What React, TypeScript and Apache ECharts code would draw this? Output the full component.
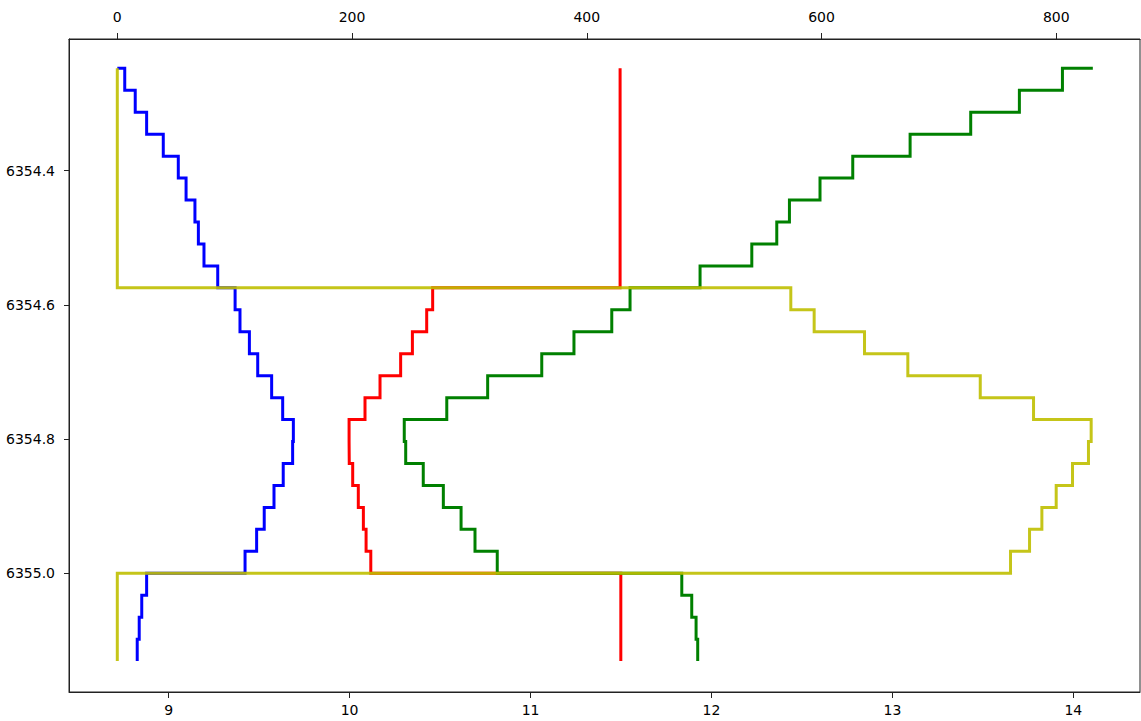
import React, { useEffect, useRef } from "react";
import * as echarts from "echarts";

// Depth samples (ft), top to bottom
const depths = [
  6354.2474, 6354.2801, 6354.3128, 6354.3456, 6354.3783, 6354.411, 6354.4437,
  6354.4764, 6354.5092, 6354.5419, 6354.5746, 6354.6073, 6354.64, 6354.6728,
  6354.7055, 6354.7382, 6354.7709, 6354.8036, 6354.8364, 6354.8691, 6354.9018,
  6354.9345, 6354.9672, 6355.0, 6355.0327, 6355.0654, 6355.0981, 6355.1308,
];

// Curves on the bottom axis
const blueValues = [
  8.716, 8.757, 8.815, 8.878, 8.97, 9.053, 9.096, 9.145, 9.164, 9.195, 9.271,
  9.367, 9.394, 9.446, 9.492, 9.569, 9.63, 9.689, 9.685, 9.633, 9.582, 9.528,
  9.486, 9.422, 8.878, 8.851, 8.837, 8.826,
];
const redValues = [
  11.495, 11.495, 11.495, 11.495, 11.495, 11.495, 11.495, 11.495, 11.495,
  11.495, 11.495, 10.459, 10.426, 10.347, 10.282, 10.168, 10.085, 9.997, 9.998,
  10.017, 10.048, 10.076, 10.091, 10.117, 11.499, 11.499, 11.499, 11.499,
];
const greenValues = [
  14.108, 13.94, 13.702, 13.433, 13.098, 12.781, 12.6, 12.431, 12.361, 12.223,
  11.937, 11.55, 11.449, 11.24, 11.062, 10.763, 10.537, 10.302, 10.31, 10.407,
  10.518, 10.616, 10.693, 10.816, 11.836, 11.891, 11.915, 11.924,
];
// Curve on the top axis
const yellowValues = [
  0, 0, 0, 0, 0, 0, 0, 0, 0, 0, 0, 573.8, 593.7, 636.6, 673.5, 735.2, 780.6,
  829.7, 827.4, 813.8, 799.9, 787.7, 777.2, 761.0, 0, 0, 0, 0,
];

const bottomTicks = [9, 10, 11, 12, 13, 14];
const topTicks = [0, 200, 400, 600, 800];
const depthTicks = [6354.4, 6354.6, 6354.8, 6355.0];

const FONT = "DejaVu Sans";

export default function App() {
  const ref = useRef<HTMLDivElement>(null);
  useEffect(() => {
    if (!ref.current) return;
    const chart = echarts.init(ref.current, null, { renderer: "svg" });
    const pairs = (vals: number[]) => vals.map((v, i) => [v, depths[i]]);
    const line = (name: string, vals: number[], color: string, xi: number, opacity = 1) => ({
      name,
      type: "line",
      xAxisIndex: xi,
      yAxisIndex: 0,
      data: pairs(vals),
      step: "end",
      showSymbol: false,
      symbol: "none",
      lineStyle: { color, width: 3, opacity, cap: "butt", join: "miter" },
      itemStyle: { color },
      clip: true,
    });
    const labelStyle = { color: "#000", fontFamily: FONT, fontSize: 14 };
    chart.setOption({
      animation: false,
      backgroundColor: "#fff",
      grid: {
        left: 69,
        top: 39,
        right: 1,
        bottom: 29,
        show: true,
        borderColor: "#222",
        borderWidth: 1,
        backgroundColor: "transparent",
      },
      xAxis: [
        {
          type: "value",
          position: "bottom",
          min: 8.4489,
          max: 14.3687,
          axisLine: { show: true, onZero: false, lineStyle: { color: "#222", width: 1 } },
          axisTick: { show: true, length: 6, customValues: bottomTicks, lineStyle: { color: "#222" } },
          axisLabel: { ...labelStyle, margin: 11, customValues: bottomTicks, formatter: (v: number) => String(v) },
          splitLine: { show: false },
        },
        {
          type: "value",
          position: "top",
          min: -41.15,
          max: 871.3,
          axisLine: { show: true, onZero: false, lineStyle: { color: "#222", width: 1 } },
          axisTick: { show: true, length: 6, customValues: topTicks, lineStyle: { color: "#222" } },
          axisLabel: { ...labelStyle, margin: 15, customValues: topTicks, formatter: (v: number) => String(v) },
          splitLine: { show: false },
        },
      ],
      yAxis: [
        {
          type: "value",
          inverse: true,
          position: "left",
          min: 6354.2037,
          max: 6355.1769,
          axisLine: { show: true, onZero: false, lineStyle: { color: "#222", width: 1 } },
          axisTick: { show: true, length: 5, customValues: depthTicks, lineStyle: { color: "#222" } },
          axisLabel: { ...labelStyle, margin: 14, customValues: depthTicks, formatter: (v: number) => v.toFixed(1) },
          splitLine: { show: false },
        },
      ],
      series: [
        line("blue", blueValues, "#0000ff", 0),
        line("red", redValues, "#ff0000", 0),
        line("green", greenValues, "#008000", 0),
        line("yellow", yellowValues, "#bfbf00", 1, 0.9),
      ],
    });
    return () => chart.dispose();
  }, []);
  return (
    <div
      ref={ref}
      style={{ position: "absolute", left: 0, top: 0, width: 1141, height: 721, background: "#fff" }}
    />
  );
}
